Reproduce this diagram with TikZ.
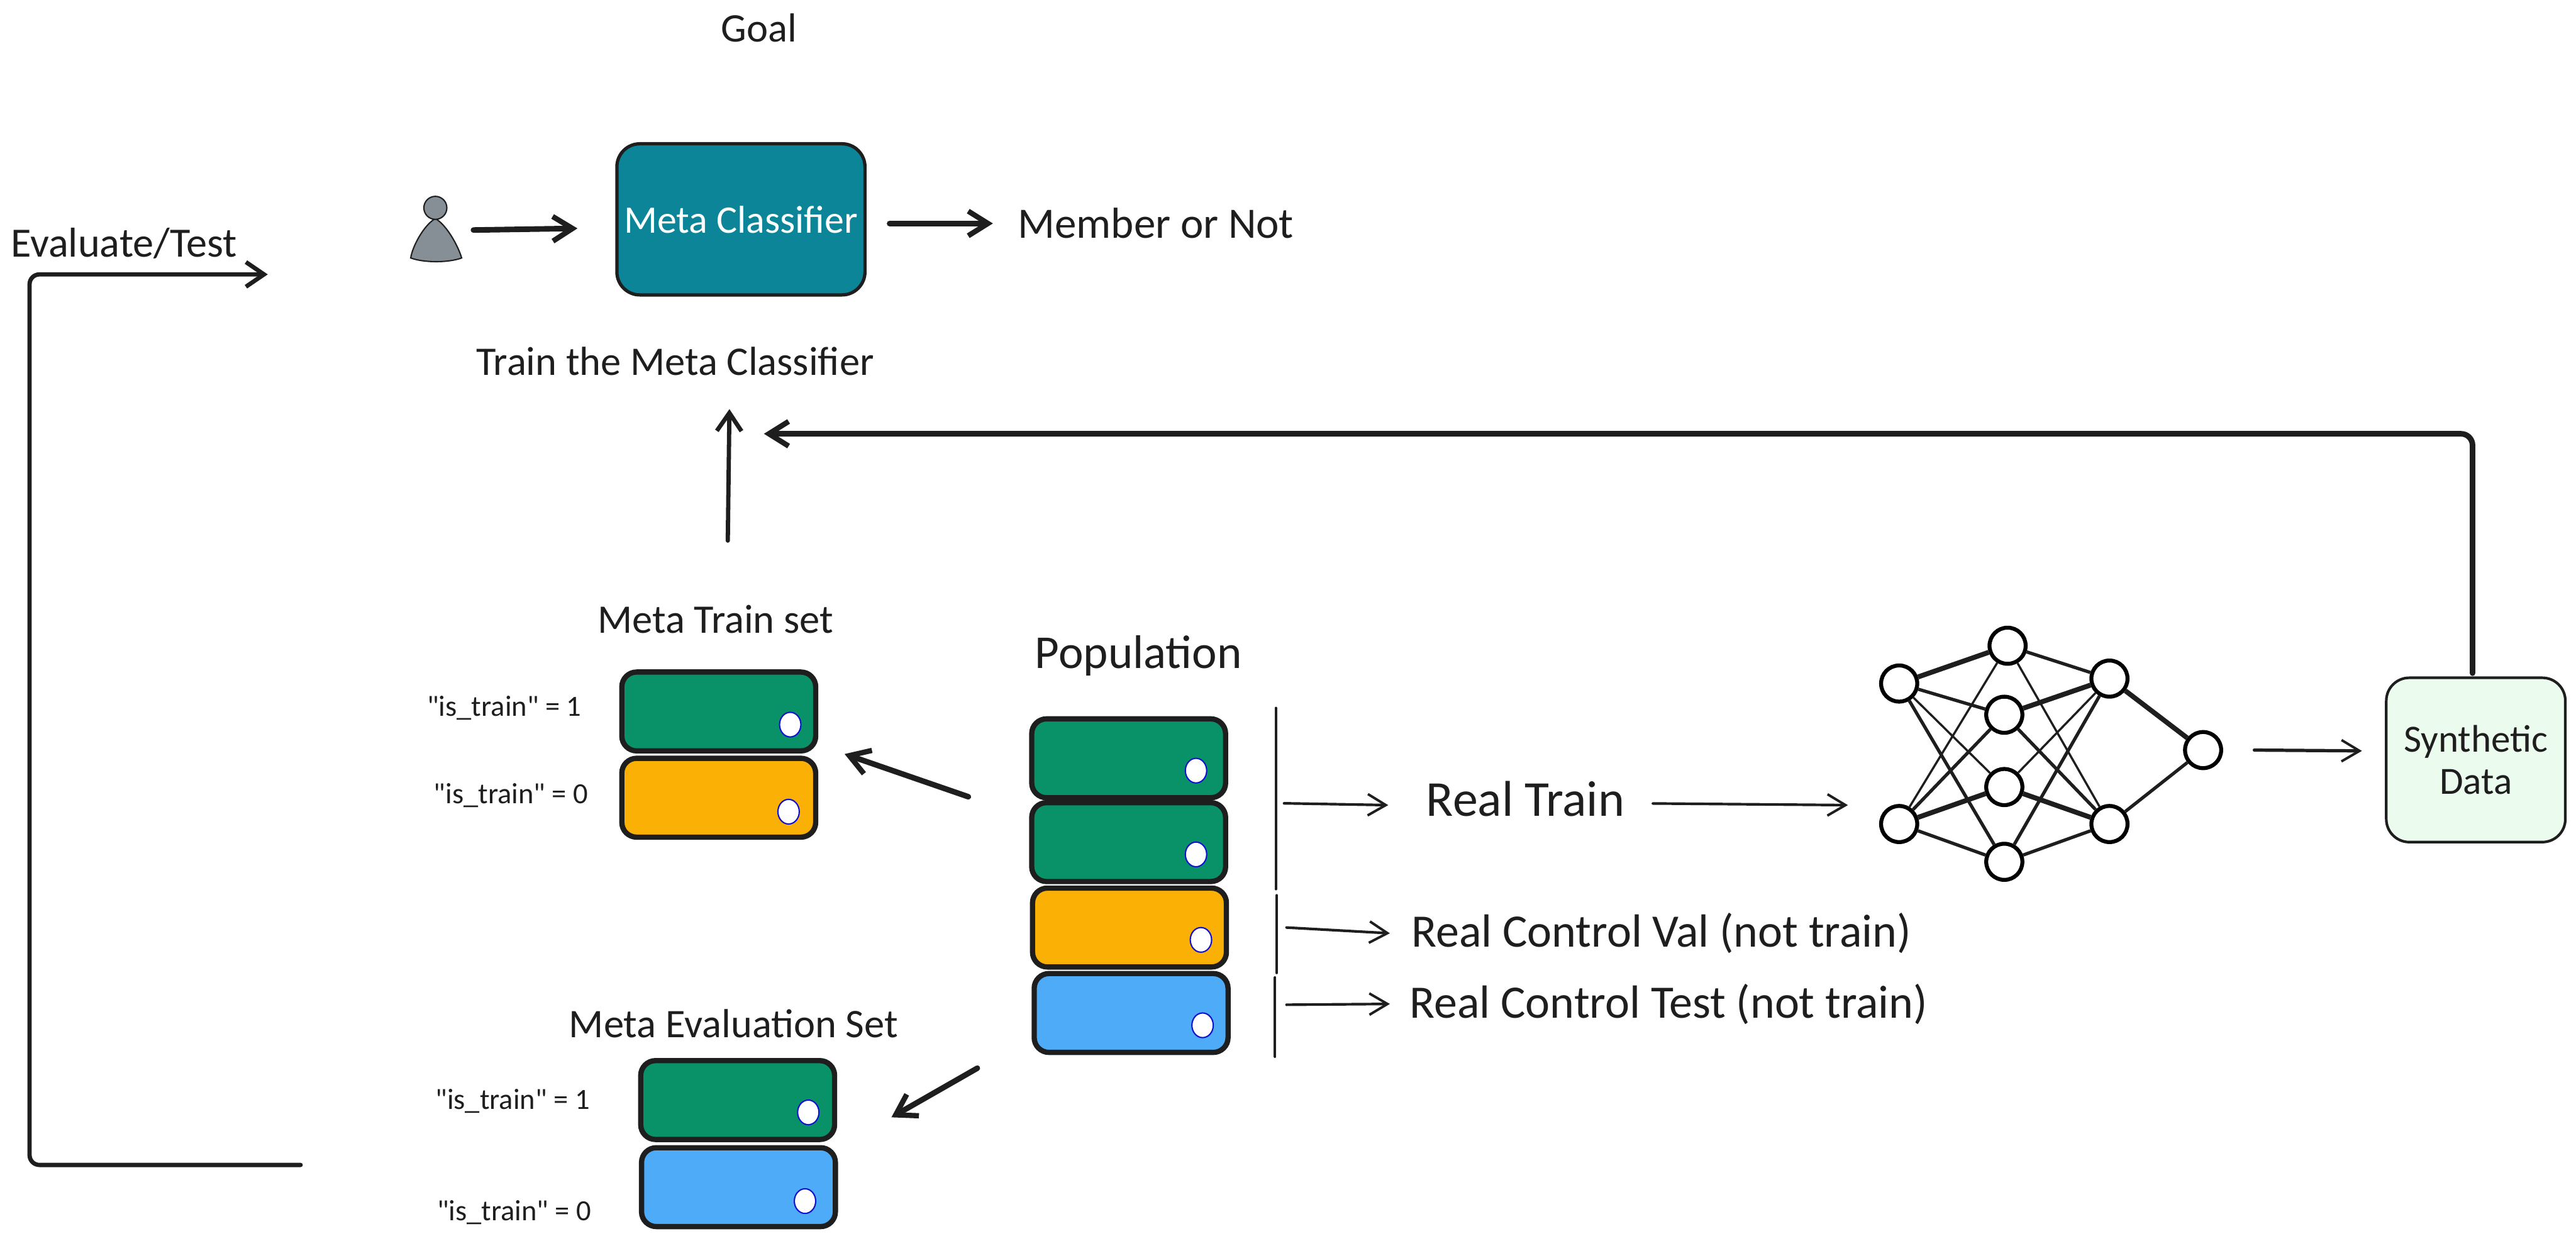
\documentclass[tikz,border=0pt]{standalone}
\usepackage{fontspec}
\setmainfont{Carlito}[Ligatures=TeXOff]
\usepackage{xcolor}
\definecolor{sketchInk}{HTML}{1E1E1E}
\definecolor{sketchTeal}{HTML}{0C8599}
\definecolor{sketchGreen}{HTML}{099268}
\definecolor{sketchOrange}{HTML}{FAB005}
\definecolor{sketchBlue}{HTML}{4DABF7}
\definecolor{sketchMint}{HTML}{EBFBEE}
\definecolor{sketchGrey}{HTML}{868E96}
\definecolor{sketchDot}{HTML}{1010D0}
\usepackage{tikz}
\usetikzlibrary{arrows.meta, positioning, shapes.geometric}
\newcommand{\IsTrain}[1]{"is\_train" = #1}
\tikzset{
  %% -- Boxes -------------------------------------------------------------
  bloc/.style       = {draw=sketchInk, line width=3.2pt, rounded corners=9pt,
                       minimum width=118pt, minimum height=48pt, inner sep=0pt},
  blocVert/.style   = {bloc, fill=sketchGreen},
  blocOrange/.style = {bloc, fill=sketchOrange},
  blocBleu/.style   = {bloc, fill=sketchBlue},
  blocMeta/.style   = {draw=sketchInk, line width=2pt, rounded corners=14pt,
                       fill=sketchTeal, text=white, minimum width=151pt,
                       minimum height=92pt, inner sep=0pt,
                       font=\fontsize{23.7}{28}\selectfont},
  blocSynth/.style  = {draw=sketchInk, line width=1.6pt, rounded corners=14pt,
                       fill=sketchMint, text=sketchInk, minimum width=109pt,
                       minimum height=100pt, inner sep=0pt, align=center,
                       font=\fontsize{23.4}{25.5}\selectfont},
  pointBloc/.style  = {ellipse, draw=sketchDot, line width=0.8pt, fill=white,
                       minimum width=13pt, minimum height=15pt, inner sep=0pt},
  neurone/.style    = {circle, draw=black, line width=2.4pt, fill=white,
                       minimum size=22pt, inner sep=0pt},
  teteHomme/.style  = {ellipse, draw=sketchInk, line width=0.8pt, fill=sketchGrey,
                       minimum width=14pt, minimum height=14pt, inner sep=0pt},
  %% -- Arrows ------------------------------------------------------------
  fleche/.style      = {-{Straight Barb[length=11pt, width=13pt, line width=1.5pt]},
                        draw=sketchInk, line width=1.6pt, line cap=round},
  flecheMoyen/.style = {-{Straight Barb[length=11pt, width=15pt, line width=2.6pt]},
                        draw=sketchInk, line width=2.6pt, line cap=round},
  flecheForte/.style = {-{Straight Barb[length=12pt, width=15pt, line width=3.2pt]},
                        draw=sketchInk, line width=3.4pt, line cap=round},
  separe/.style      = {draw=sketchInk, line width=1.6pt, line cap=round},
  lien/.style        = {draw=sketchInk, line width=2pt},
  lienFin/.style     = {draw=sketchInk, line width=1.3pt},
  lienFort/.style    = {draw=sketchInk, line width=3pt},
  %% -- Text --------------------------------------------------------------
  etiquette/.style   = {text=sketchInk, inner sep=0pt, font=\fontsize{17.8}{21}\selectfont},
  titreBloc/.style   = {text=sketchInk, inner sep=0pt, font=\fontsize{24.7}{29}\selectfont},
  titreGrand/.style  = {text=sketchInk, inner sep=0pt, font=\fontsize{28.7}{34}\selectfont},
  titreReel/.style   = {text=sketchInk, inner sep=0pt, anchor=west,
                        font=\fontsize{28.3}{33}\selectfont},
}

\begin{document}
\begin{tikzpicture}[x=1pt, y=-1pt]
\useasboundingbox (0,0) rectangle (1568,755);

%% titles and free labels
\node[titreBloc] (goal) at (462,17) {Goal};
\node[titreBloc, font=\fontsize{25.4}{30}\selectfont] (evalTitre) at (75.5,148) {Evaluate/Test};
\node[titreBloc] (trainTitre) at (411,220) {Train the Meta Classifier};
\node[titreGrand, font=\fontsize{26.4}{31}\selectfont] (member) at (703.5,136) {Member or Not};

%% the classifier and its user
\node[blocMeta] (meta) at (451,133.5) {Meta Classifier};
\node[inner sep=0pt, minimum width=31pt, minimum height=39pt] (person) at (265.5,140) {};
\draw[draw=sketchInk, line width=0.8pt, fill=sketchGrey]
  (265,133) .. controls (258,137) and (251,150) .. (250,157)
  .. controls (258,160) and (273,160) .. (281,157)
  .. controls (279,150) and (272,137) .. (265,133) -- cycle;
\node[teteHomme] (personHead) at (265,126.5) {};

%% meta train set
\node[titreBloc] (trainSet) at (435.5,377) {Meta Train set};
\node[blocVert]   (trainA) at (437.5,433) {};
\node[blocOrange] (trainB) at (437.5,485.5) {};
\node[pointBloc] (trainDotA) at (481,441) {};
\node[pointBloc] (trainDotB) at (480,494) {};
\node[etiquette] (trainLabelA) at (307,431) {\IsTrain{1}};
\node[etiquette] (trainLabelB) at (311,484) {\IsTrain{0}};

%% population
\node[titreGrand] (popTitre) at (693,399) {Population};
\node[blocVert]   (popA) at (687,461.5) {};
\node[blocVert]   (popB) at (687,512.5) {};
\node[blocOrange] (popC) at (687.5,564.5) {};
\node[blocBleu]   (popD) at (688.5,616.5) {};
\node[pointBloc] (popDotA) at (728,469) {};
\node[pointBloc] (popDotB) at (728,520) {};
\node[pointBloc] (popDotC) at (731,572) {};
\node[pointBloc] (popDotD) at (732,624) {};

%% meta evaluation set
\node[titreBloc] (evalSet) at (446.5,623) {Meta Evaluation Set};
\node[blocVert] (evalA) at (449,669.5) {};
\node[blocBleu] (evalB) at (449.5,722.5) {};
\node[pointBloc] (evalDotA) at (492,677) {};
\node[pointBloc] (evalDotB) at (490,731) {};
\node[etiquette] (evalLabelA) at (312,670) {\IsTrain{1}};
\node[etiquette] (evalLabelB) at (313,738) {\IsTrain{0}};

%% real splits
\node[titreReel, font=\fontsize{30.6}{36}\selectfont] (realTrain) at (868,486) {Real Train};
\node[titreReel] (realVal) at (859,568) {Real Control Val (not train)};
\node[titreReel] (realTest) at (858,611) {Real Control Test (not train)};

%% generator
\node[neurone] (nA) at (1156,416) {};
\node[neurone] (nB) at (1156,501.5) {};
\node[neurone] (hA) at (1222,393) {};
\node[neurone] (hB) at (1220,435) {};
\node[neurone] (hC) at (1220,479) {};
\node[neurone] (hD) at (1220,524.5) {};
\node[neurone] (mA) at (1284,413) {};
\node[neurone] (mB) at (1284,501.5) {};
\node[neurone] (out) at (1341,456.5) {};

\draw[lienFort] (nA) -- (hA);
\draw[lien] (nA) -- (hB);
\draw[lienFin] (nA) -- (hC);
\draw[lien] (nA) -- (hD);
\draw[lienFin] (nB) -- (hA);
\draw[lien] (nB) -- (hB);
\draw[lienFort] (nB) -- (hC);
\draw[lien] (nB) -- (hD);
\draw[lien] (mA) -- (hA);
\draw[lienFort] (mA) -- (hB);
\draw[lienFin] (mA) -- (hC);
\draw[lien] (mA) -- (hD);
\draw[lienFin] (mB) -- (hA);
\draw[lien] (mB) -- (hB);
\draw[lienFort] (mB) -- (hC);
\draw[lien] (mB) -- (hD);
\draw[lienFort] (mA) -- (out);
\draw[lien] (mB) -- (out);

\node[blocSynth] (synth) at (1507,462.5) {Synthetic\\Data};

%% connectors
\coordinate (upStart) at (443,329);
\coordinate (upEnd) at (444,249);
\coordinate (evalStart) at (183,709);
\coordinate (evalLow) at (18,709);
\coordinate (evalHigh) at (18,167);
\coordinate (evalEnd) at (163,167);
\coordinate (synthEnd) at (465,264);

\draw[flecheForte] ([xshift=7pt]person.east) -- ([xshift=-23pt,yshift=-5.5pt]meta.west);
\draw[flecheForte] ([xshift=14pt,yshift=-2.5pt]meta.east) -- ([xshift=-15pt]member.west);
\draw[flecheMoyen] (upStart) -- (upEnd);
\draw[flecheMoyen, rounded corners=6pt] (evalStart) -- (evalLow) -- (evalHigh) -- (evalEnd);
\draw[flecheForte, rounded corners=7pt] ([xshift=-2pt,yshift=2pt]synth.north) |- (synthEnd);

\draw[flecheForte] ([xshift=-37pt,yshift=2pt]popB.north west) -- ([xshift=16pt,yshift=1pt]trainB.north east);
\draw[flecheForte] ([xshift=-33pt,yshift=-8pt]popD.south west) -- ([xshift=33pt,yshift=-10.5pt]evalA.east);

\draw[separe] ([xshift=29pt,yshift=5pt]popA.north east) -- ([xshift=29pt,yshift=-3pt]popB.south east);
\draw[separe] ([xshift=29pt,yshift=-6pt]popC.north east) -- ([xshift=29pt,yshift=-2pt]popC.south east);
\draw[separe] ([xshift=27pt,yshift=-4pt]popD.north east) -- ([xshift=27pt,yshift=-1pt]popD.south east);

\draw[fleche] ([xshift=34pt,yshift=-2pt]popB.north east) -- ([xshift=-23pt,yshift=-4pt]realTrain.west);
\draw[fleche] ([xshift=35pt]popC.east) -- ([xshift=-13pt]realVal.west);
\draw[fleche] ([xshift=34pt,yshift=5pt]popD.east) -- ([xshift=-12pt]realTest.west);
\draw[fleche] ([xshift=17pt,yshift=-3pt]realTrain.east) -- ([xshift=-19pt,yshift=11.5pt]nB.west);
\draw[fleche, line width=2pt] ([xshift=19pt]out.east) -- ([xshift=-14pt,yshift=5.5pt]synth.west);

\end{tikzpicture}
\end{document}
